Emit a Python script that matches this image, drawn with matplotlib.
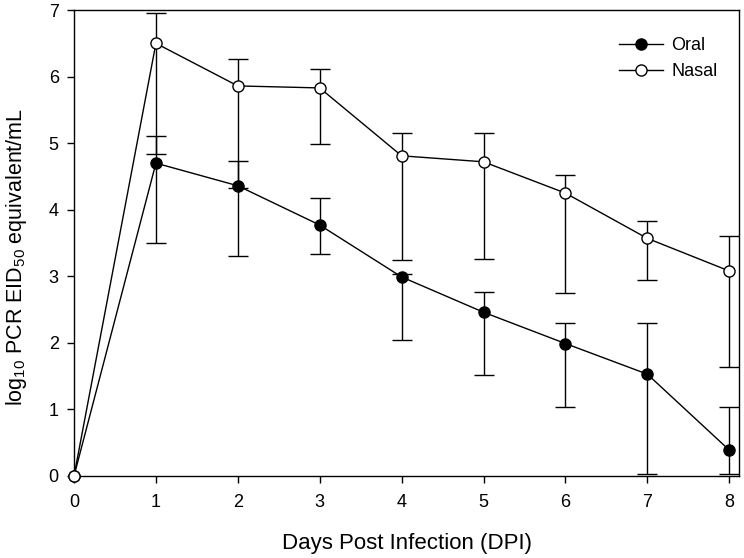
import matplotlib
matplotlib.use('Agg')
import matplotlib.pyplot as plt
import numpy as np

plt.rcParams['font.family'] = ['Liberation Sans', 'DejaVu Sans']
plt.rcParams['mathtext.fontset'] = 'custom'
plt.rcParams['mathtext.rm'] = 'Liberation Sans'
plt.rcParams['mathtext.it'] = 'Liberation Sans:italic'

days = [0, 1, 2, 3, 4, 5, 6, 7, 8]

# values (log10 PCR EID50 equivalent/mL)
oral = [0, 4.70, 4.36, 3.77, 2.99, 2.46, 1.99, 1.53, 0.39]
oral_hi = [0, 5.11, 4.73, 4.17, 3.04, 2.77, 2.30, 2.30, 1.03]
oral_lo = [0, 3.50, 3.30, 3.33, 2.04, 1.52, 1.03, 0.03, 0.03]

nasal = [0, 6.50, 5.86, 5.83, 4.81, 4.72, 4.25, 3.57, 3.08]
nasal_hi = [0, 6.96, 6.26, 6.12, 5.15, 5.15, 4.52, 3.83, 3.60]
nasal_lo = [0, 4.84, 4.32, 4.98, 3.25, 3.26, 2.75, 2.95, 1.63]

oral = np.array(oral); nasal = np.array(nasal)
oral_err = [oral - np.array(oral_lo), np.array(oral_hi) - oral]
nasal_err = [nasal - np.array(nasal_lo), np.array(nasal_hi) - nasal]
# no error bars at day 0
mask = np.array(days) > 0

fig = plt.figure(figsize=(7.44, 5.58), dpi=100)
ax = fig.add_axes([0.0995, 0.147, 0.8938, 0.835])

ax.errorbar(np.array(days)[mask], oral[mask], yerr=[e[mask] for e in oral_err],
            fmt='none', ecolor='black', elinewidth=1.0, capsize=7.5, capthick=1.0, zorder=2)
ax.errorbar(np.array(days)[mask], nasal[mask], yerr=[e[mask] for e in nasal_err],
            fmt='none', ecolor='black', elinewidth=1.0, capsize=7.5, capthick=1.0, zorder=2)
ax.plot(days, oral, '-o', color='black', lw=1.0, markersize=8,
        markerfacecolor='black', markeredgecolor='black', label='Oral', zorder=3, clip_on=False)
ax.plot(days, nasal, '-o', color='black', lw=1.0, markersize=8, markeredgewidth=1.0,
        markerfacecolor='white', markeredgecolor='black', label='Nasal', zorder=4, clip_on=False)

ax.set_xlim(0, 8.12)
ax.set_ylim(0, 7)
ax.set_xticks(days)
ax.set_yticks(range(0, 8))
ax.tick_params(direction='out', length=5, width=1.0, labelsize=13, top=False, right=False)
ax.tick_params(axis='x', pad=8)
ax.tick_params(axis='y', pad=6)
for s in ax.spines.values():
    s.set_linewidth(1.0)

ax.set_xlabel('Days Post Infection (DPI)', fontsize=16, labelpad=16)
ax.set_ylabel(r'log$_{10}$ PCR EID$_{50}$ equivalent/mL', fontsize=15.5)
ax.yaxis.set_label_coords(-0.067, 0.47)

ax.legend(loc='upper left', bbox_to_anchor=(0.809, 0.957), borderaxespad=0,
          frameon=False, fontsize=13, handlelength=2.4,
          handletextpad=0.5, labelspacing=0.48)

fig.savefig('out.png', dpi=100)
